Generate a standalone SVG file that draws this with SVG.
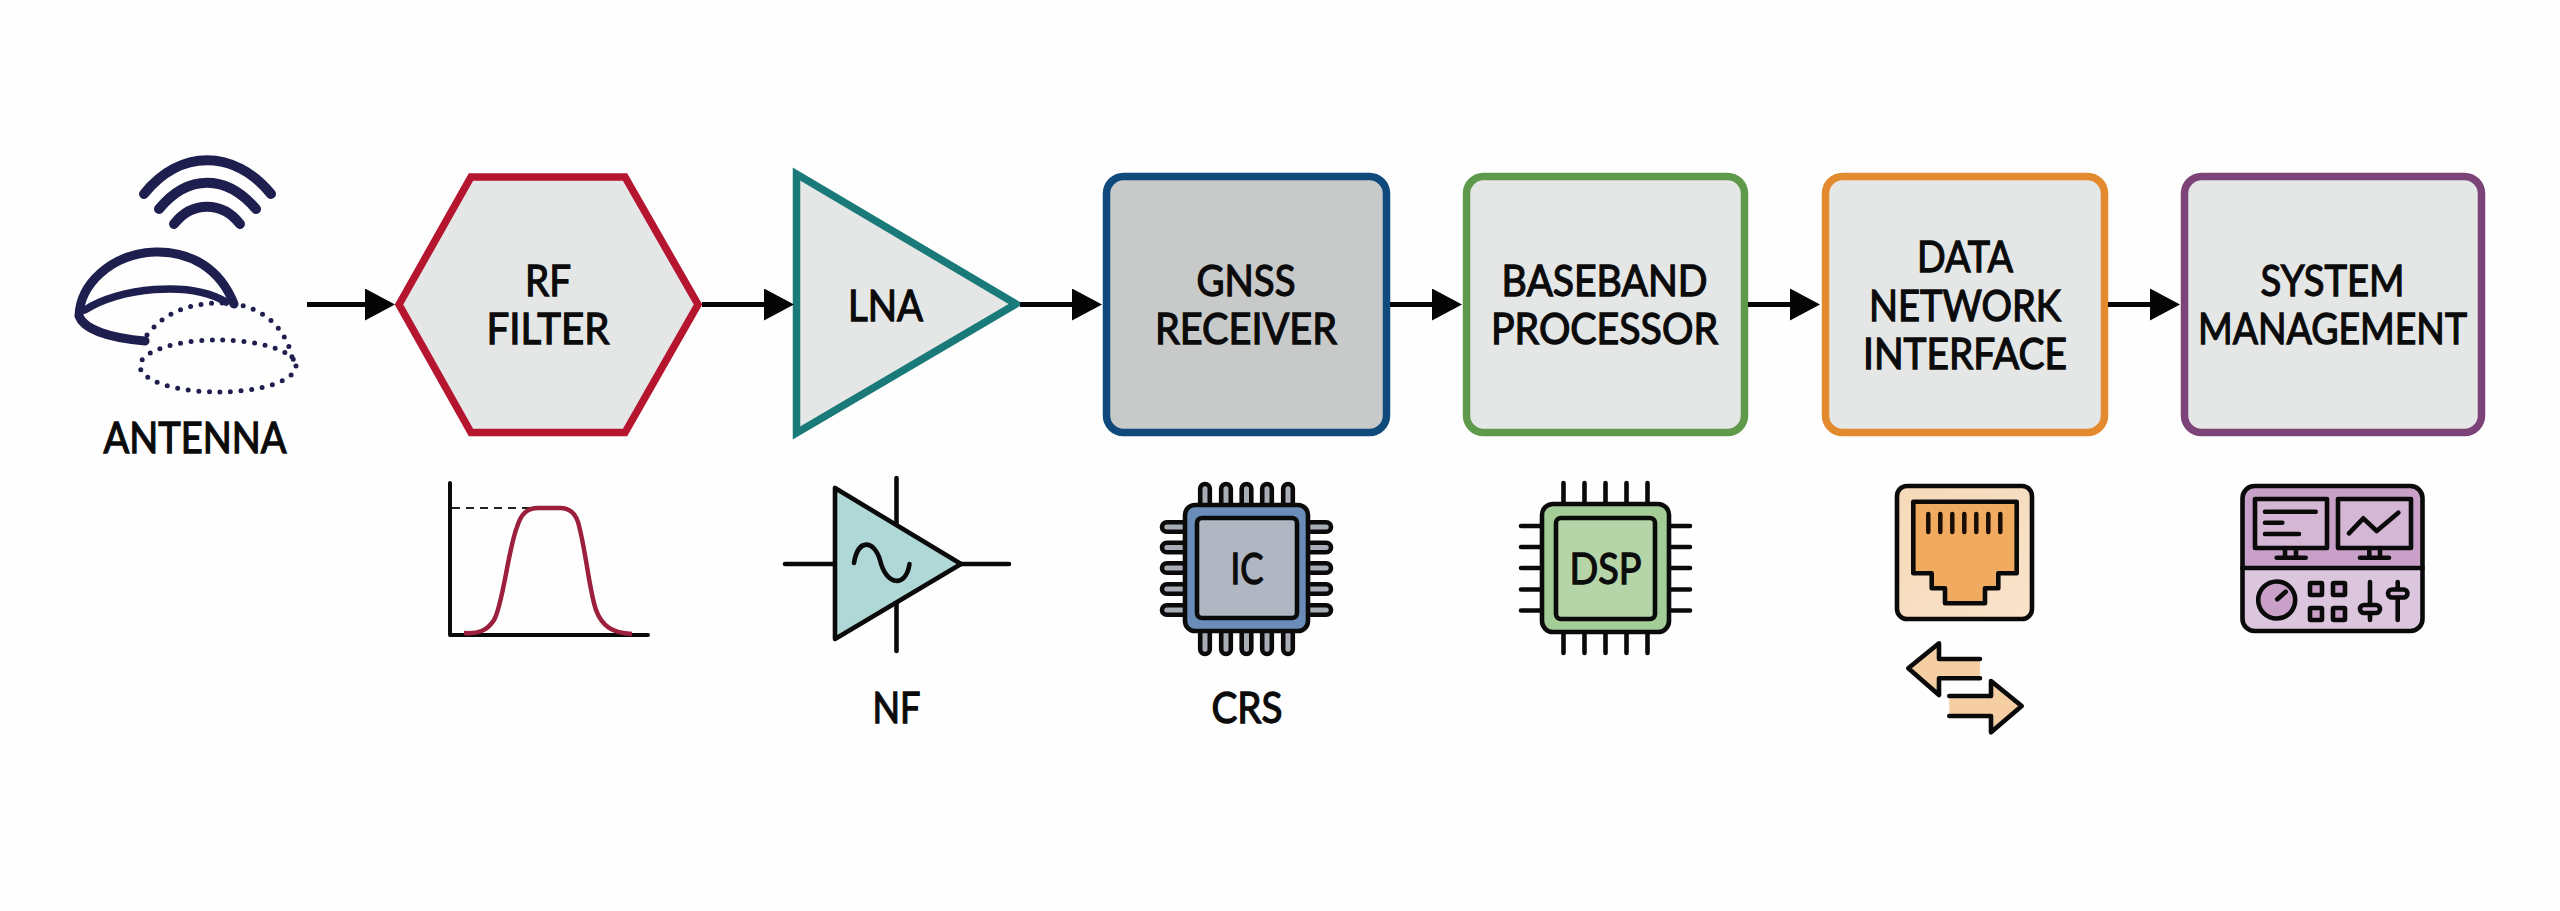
<svg xmlns="http://www.w3.org/2000/svg" width="2560" height="911" viewBox="0 0 2560 911">
<style>
text{font-family:"Lato","Noto Sans","Liberation Sans",sans-serif;font-weight:400;font-size:43px;fill:#0b0b0b;stroke:#0b0b0b;stroke-width:1.3;text-anchor:middle}
.box{stroke-width:7.5;fill:#e5e6e6}
.k{stroke:#0a0a0a;fill:none;stroke-width:4.6;stroke-linecap:round;stroke-linejoin:round}
.conn{stroke:#050505;stroke-width:5;fill:none;marker-end:url(#head)}
.ant{stroke:#1f1f4f;fill:none;stroke-linecap:round;stroke-linejoin:round}
.dot{stroke:#1f1f4f;fill:none;stroke-width:5;stroke-linecap:round;stroke-dasharray:0 10.6}
</style>
<defs>
<marker id="head" markerUnits="userSpaceOnUse" markerWidth="30" markerHeight="32" refX="9" refY="16" orient="auto"><polygon points="0,0 30,16 0,32" fill="#050505"/></marker>
<rect id="pinV" x="-4.8" y="0" width="9.6" height="25" rx="4.8" fill="#a8adb6" stroke="#0a0a0a" stroke-width="4.6"/>
<rect id="pinH" x="0" y="-4.8" width="25" height="9.6" rx="4.8" fill="#a8adb6" stroke="#0a0a0a" stroke-width="4.6"/>
<linearGradient id="peach" x1="0" y1="0" x2="1" y2="1"><stop offset="0" stop-color="#f6d9b8"/><stop offset="1" stop-color="#f9e3cb"/></linearGradient>
</defs>
<rect width="2560" height="911" fill="#fefefe"/>

<g id="antenna">
<path class="ant" stroke-width="10" d="M144 194C180 149 234 149 271 194"/>
<path class="ant" stroke-width="10" d="M159 209C188 174 226 174 256 209"/>
<path class="ant" stroke-width="10" d="M174 224C192 201 222 201 240 224"/>
<path class="ant" stroke-width="9" stroke-linecap="butt" d="M234 304C220 268 190 251 155 252C110 254 80 285 79 316C84 330 112 338 145 341"/>
<path class="ant" stroke-width="7.5" d="M85 310C118 288 190 280 226 302"/>
<path class="dot" d="M147 335C165 312 190 303 222 303C258 303 285 325 292 357"/>
<ellipse class="dot" cx="218" cy="366" rx="78" ry="26"/>
<text x="195" y="453" font-size="44" textLength="183" lengthAdjust="spacingAndGlyphs">ANTENNA</text>
</g>

<g id="rf-filter">
<polygon class="box" stroke="#b5152f" points="399,304.5 471,177 625,177 698,304.5 625,432.5 471,432.5"/>
<text x="548" y="296" textLength="46" lengthAdjust="spacingAndGlyphs">RF</text>
<text x="548" y="344" textLength="123" lengthAdjust="spacingAndGlyphs">FILTER</text>
</g>

<g id="lna">
<polygon class="box" stroke="#1a7a79" points="796.5,174 796.5,433 1016,304"/>
<text x="885.5" y="320.5" textLength="75" lengthAdjust="spacingAndGlyphs">LNA</text>
</g>

<g id="gnss-receiver">
<rect class="box" x="1106.5" y="176.5" width="280" height="256" rx="17" style="fill:#c8c9c9" stroke="#10497c"/>
<text x="1246" y="296" textLength="99" lengthAdjust="spacingAndGlyphs">GNSS</text>
<text x="1246" y="344" textLength="182" lengthAdjust="spacingAndGlyphs">RECEIVER</text>
</g>

<g id="baseband-processor">
<rect class="box" x="1466.5" y="176.5" width="278" height="256" rx="17" stroke="#5f9a4c"/>
<text x="1604.5" y="296" textLength="206" lengthAdjust="spacingAndGlyphs">BASEBAND</text>
<text x="1604.5" y="344" textLength="227" lengthAdjust="spacingAndGlyphs">PROCESSOR</text>
</g>

<g id="data-network-interface">
<rect class="box" x="1825.5" y="176.5" width="279" height="256" rx="17" stroke="#e38a2e"/>
<text x="1965" y="272" textLength="96" lengthAdjust="spacingAndGlyphs">DATA</text>
<text x="1965" y="320.5" textLength="192" lengthAdjust="spacingAndGlyphs">NETWORK</text>
<text x="1965" y="369" textLength="204" lengthAdjust="spacingAndGlyphs">INTERFACE</text>
</g>

<g id="system-management">
<rect class="box" x="2184.5" y="176.5" width="297" height="256" rx="17" stroke="#7c4378"/>
<text x="2332.5" y="296" textLength="144" lengthAdjust="spacingAndGlyphs">SYSTEM</text>
<text x="2332.5" y="344" textLength="269" lengthAdjust="spacingAndGlyphs">MANAGEMENT</text>
</g>

<g id="connectors">
<path class="conn" d="M307 304.5H374"/>
<path class="conn" d="M702 304.5H773"/>
<path class="conn" d="M1020 304.5H1081"/>
<path class="conn" d="M1390 304.5H1441"/>
<path class="conn" d="M1748 304.5H1799"/>
<path class="conn" d="M2108 304.5H2159"/>
</g>

<g id="filter-response">
<path d="M450 483V635H648" fill="none" stroke="#0a0a0a" stroke-width="4" stroke-linecap="round" stroke-linejoin="round"/>
<path d="M452 508H530" fill="none" stroke="#222" stroke-width="1.8" stroke-dasharray="8 6"/>
<path d="M464 633C478 634 487 631 494 620C503 605 508 550 517 527C521 514 527 508 538 508H560C570 508 575 513 578 522C586 550 589 590 596 610C602 626 612 633 632 634" fill="none" stroke="#9c1f3e" stroke-width="4.5"/>
</g>

<g id="nf-amplifier">
<path class="k" d="M785 564H835M961 564H1009M896.5 478V525M896.5 603V651"/>
<polygon class="k" style="fill:#b0d8d6" points="835,488 835,639 961,564"/>
<path class="k" d="M854 563C858 538 874 540 880 560C886 586 906 588 909.5 564"/>
<text x="896.5" y="723" font-size="44" textLength="48" lengthAdjust="spacingAndGlyphs">NF</text>
</g>

<g id="ic-chip">
<use href="#pinV" x="1205" y="484"/><use href="#pinV" x="1226" y="484"/><use href="#pinV" x="1246.5" y="484"/><use href="#pinV" x="1267" y="484"/><use href="#pinV" x="1288" y="484"/>
<use href="#pinV" x="1205" y="629"/><use href="#pinV" x="1226" y="629"/><use href="#pinV" x="1246.5" y="629"/><use href="#pinV" x="1267" y="629"/><use href="#pinV" x="1288" y="629"/>
<use href="#pinH" x="1162" y="527"/><use href="#pinH" x="1162" y="547.5"/><use href="#pinH" x="1162" y="568"/><use href="#pinH" x="1162" y="589"/><use href="#pinH" x="1162" y="610"/>
<use href="#pinH" x="1306" y="527"/><use href="#pinH" x="1306" y="547.5"/><use href="#pinH" x="1306" y="568"/><use href="#pinH" x="1306" y="589"/><use href="#pinH" x="1306" y="610"/>
<rect class="k" style="fill:#6a8cb8" x="1185" y="505" width="123" height="126" rx="10"/>
<rect class="k" style="fill:#b0b6c2" x="1197" y="518" width="100" height="100" rx="5"/>
<text x="1247" y="584" textLength="33" lengthAdjust="spacingAndGlyphs">IC</text>
<text x="1247" y="723" font-size="44" textLength="71" lengthAdjust="spacingAndGlyphs">CRS</text>
</g>

<g id="dsp-chip">
<path class="k" d="M1563.5 483V503M1584.5 483V503M1605.5 483V503M1626.5 483V503M1647.5 483V503M1563.5 633V653M1584.5 633V653M1605.5 633V653M1626.5 633V653M1647.5 633V653M1521 526H1541M1521 547H1541M1521 568H1541M1521 589.5H1541M1521 610.5H1541M1670 526H1690M1670 547H1690M1670 568H1690M1670 589.5H1690M1670 610.5H1690"/>
<rect class="k" style="fill:#a3cc96" x="1542" y="504" width="127" height="128" rx="11"/>
<rect class="k" style="fill:#b5d5a9" x="1556" y="518" width="99" height="101" rx="5"/>
<text x="1605.5" y="584" textLength="72" lengthAdjust="spacingAndGlyphs">DSP</text>
</g>

<g id="rj45">
<rect class="k" style="fill:url(#peach)" x="1897" y="486" width="135" height="133" rx="10"/>
<polygon class="k" style="fill:#f0ab60" points="1913.3,501.7 2016.7,501.7 2016.7,573.3 1998.3,573.3 1998.3,588.3 1985,588.3 1985,603.3 1945,603.3 1945,588.3 1931.7,588.3 1931.7,573.3 1913.3,573.3"/>
<path d="M1928.3 514V532M1940.3 514V532M1952.3 514V532M1964.3 514V532M1976.3 514V532M1988.3 514V532M2000.3 514V532" fill="none" stroke="#1a0d05" stroke-width="4.5" stroke-linecap="round"/>
<path d="M1980 659H1939V643.3L1908.3 668.3L1939 695V678.3H1980Z" fill="#f5cfa3"/>
<path class="k" d="M1980 659H1939V643.3L1908.3 668.3L1939 695V678.3H1980"/>
<path d="M1949.3 696H1991V681L2021.7 706L1991 732.3V716H1949.3Z" fill="#f5cfa3"/>
<path class="k" d="M1949.3 696H1991V681L2021.7 706L1991 732.3V716H1949.3"/>
</g>

<g id="control-panel">
<rect x="2242.5" y="486" width="180" height="145" rx="12" fill="#dcc6dd"/>
<path d="M2242.5 568V498a12 12 0 0 1 12-12H2410.5a12 12 0 0 1 12 12V568Z" fill="#c9a0c8"/>
<rect class="k" x="2242.5" y="486" width="180" height="145" rx="12"/>
<path class="k" d="M2242.5 568H2422.5"/>
<rect class="k" style="fill:#d4b6d5" x="2255" y="499" width="72" height="49"/>
<rect class="k" style="fill:#d4b6d5" x="2338" y="499" width="73" height="49"/>
<path class="k" d="M2265 511.7H2315.7M2265 522.7H2282.3M2265 534H2299M2285 548V557.7M2296 548V557.7M2276.7 557.7H2305.7M2349 533.3L2363.3 518.3L2376.7 531L2398.3 512.7M2369.3 548V557.7M2380 548V557.7M2360 557.7H2389"/>
<circle class="k" style="fill:#c9a0c8" cx="2276.7" cy="600" r="18.5"/>
<path class="k" d="M2277.3 599.3L2285.7 591.7"/>
<rect class="k" style="fill:#c9a0c8" x="2310" y="583" width="12" height="12" rx="1"/>
<rect class="k" style="fill:#c9a0c8" x="2333" y="583" width="12" height="12" rx="1"/>
<rect class="k" style="fill:#c9a0c8" x="2310" y="608" width="12" height="12" rx="1"/>
<rect class="k" style="fill:#c9a0c8" x="2333" y="608" width="12" height="12" rx="1"/>
<path class="k" d="M2370 582V620M2397.7 582V620"/>
<rect class="k" style="fill:#d4b6d5" x="2360" y="605" width="20" height="8" rx="4"/>
<rect class="k" style="fill:#d4b6d5" x="2388" y="589.5" width="19.5" height="8" rx="4"/>
</g>
</svg>
